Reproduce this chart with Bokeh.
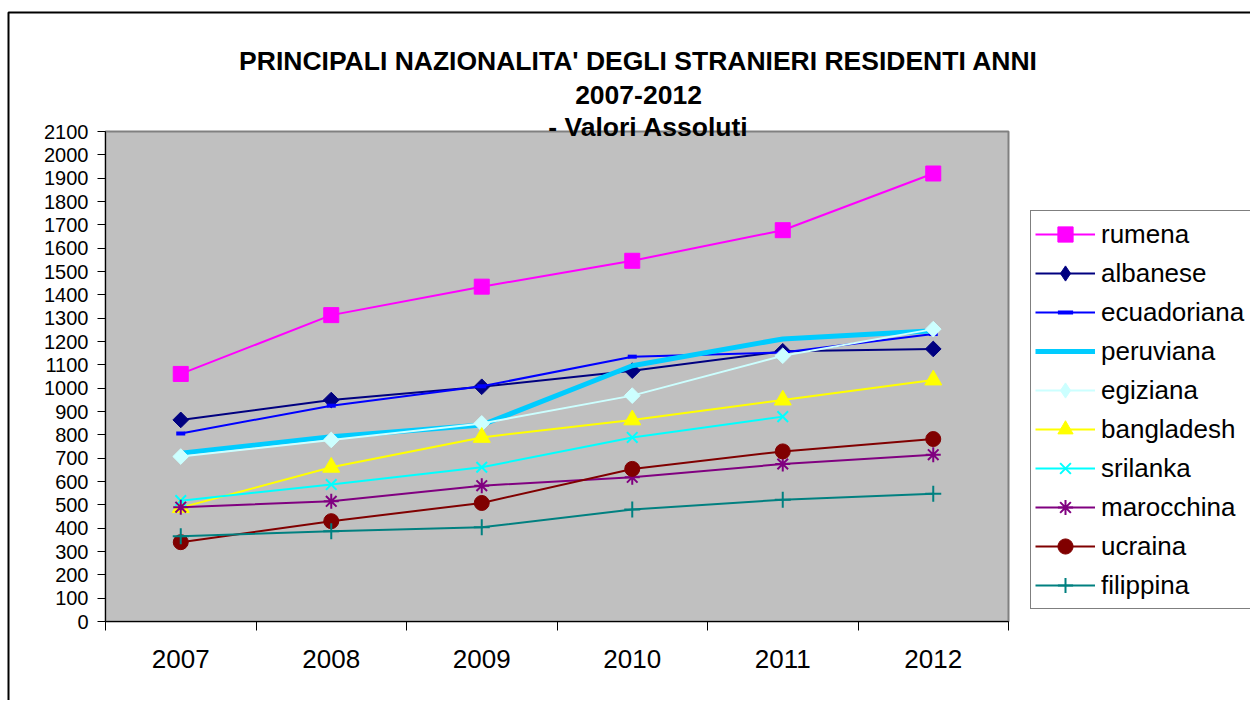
from bokeh.plotting import figure
from bokeh.models import (Range1d, FixedTicker, Legend, LegendItem, Label,
                          BoxAnnotation, ColumnDataSource, LinearAxis)
from bokeh.embed import file_html
from bokeh.resources import INLINE
import math

years = ["2007", "2008", "2009", "2010", "2011", "2012"]

rumena      = [1061, 1313, 1435, 1546, 1677, 1920]
albanese    = [864, 949, 1006, 1075, 1158, 1168]
ecuadoriana = [806, 925, 1008, 1135, 1153, 1232]
peruviana   = [721, 792, 842, 1096, 1211, 1246]
egiziana    = [707, 778, 849, 968, 1139, 1253]
bangladesh  = [488, 661, 789, 864, 949, 1035]
srilanka    = [518, 587, 661, 789, 878]
marocchina  = [490, 515, 582, 618, 675, 715]
ucraina     = [340, 430, 508, 654, 729, 782]
filippina   = [365, 387, 404, 480, 522, 547]

y_ticks = list(range(0, 2101, 100))
Y_MAX = 2100

title_lines = ["PRINCIPALI NAZIONALITA' DEGLI STRANIERI RESIDENTI ANNI",
               "2007-2012",
               "- Valori Assoluti"]

FONT = "Liberation Sans"

# canvas / plot-area geometry in pixels
W, H = 1250, 700
PL, PR, PT, PB = 105, 1008, 131, 621
n = len(years)
xs = n / (PR - PL)            # data units per pixel (x)
ys = Y_MAX / (PB - PT)         # data units per pixel (y)
x_range = Range1d(-PL * xs, (W - PL) * xs)
y_range = Range1d(-(H - PB) * ys, Y_MAX + PT * ys)

p = figure(width=W, height=H, output_backend="svg", toolbar_location=None,
           x_range=x_range, y_range=y_range,
           x_axis_location=None, y_axis_location=None,
           min_border=0, min_border_left=0, min_border_right=0,
           min_border_top=0, min_border_bottom=0)
p.background_fill_color = "white"
p.border_fill_color = "white"
p.outline_line_color = None
p.xgrid.visible = False
p.ygrid.visible = False

# grey plot area
p.add_layout(BoxAnnotation(left=0, right=n, bottom=0, top=Y_MAX,
                           fill_color="#C0C0C0", fill_alpha=1,
                           line_color="#808080", line_alpha=1, line_width=2,
                           level="underlay"))

xc = [i + 0.5 for i in range(n)]

# x axis: labels at category centres, ticks at category boundaries
xaxis = LinearAxis(fixed_location=0, bounds=(0, n))
xaxis.ticker = FixedTicker(ticks=xc, minor_ticks=list(range(n + 1)))
xaxis.major_label_overrides = {x: y for x, y in zip(xc, years)}
xaxis.major_tick_out = 0
xaxis.major_tick_in = 0
xaxis.minor_tick_out = 9
xaxis.minor_tick_in = 0
xaxis.minor_tick_line_color = "black"
xaxis.axis_line_color = "black"
xaxis.major_label_text_font = FONT
xaxis.major_label_text_font_size = "26px"
xaxis.major_label_text_color = "black"
xaxis.major_label_standoff = 19
p.add_layout(xaxis, "below")

yaxis = LinearAxis(fixed_location=0, bounds=(0, Y_MAX))
yaxis.ticker = FixedTicker(ticks=y_ticks)
yaxis.major_tick_out = 8
yaxis.major_tick_in = 0
yaxis.minor_tick_line_color = None
yaxis.axis_line_color = "black"
yaxis.major_tick_line_color = "black"
yaxis.major_label_text_font = FONT
yaxis.major_label_text_font_size = "20px"
yaxis.major_label_text_color = "black"
yaxis.major_label_standoff = 9
p.add_layout(yaxis, "left")

series = [
    ("rumena", rumena, "#FF00FF", 2, "square", 15),
    ("albanese", albanese, "#000080", 2, "diamond", 15),
    ("ecuadoriana", ecuadoriana, "#0000FF", 2, "dash", 9),
    ("peruviana", peruviana, "#00CCFF", 5, None, 0),
    ("egiziana", egiziana, "#CCFFFF", 2, "diamond", 15),
    ("bangladesh", bangladesh, "#FFFF00", 2, "triangle", 17),
    ("srilanka", srilanka, "#00FFFF", 2, "x", 15),
    ("marocchina", marocchina, "#800080", 2, "asterisk", 15),
    ("ucraina", ucraina, "#800000", 2, "circle", 15),
    ("filippina", filippina, "#008080", 2, "cross", 16),
]

items = []
for name, vals, color, lw, marker, size in series:
    src = ColumnDataSource(dict(x=xc[:len(vals)], y=vals))
    rs = [p.line("x", "y", source=src, line_color=color, line_width=lw)]
    if marker is None:
        pass
    elif marker in ("x", "asterisk", "cross"):
        rs.append(p.scatter("x", "y", source=src, marker=marker, size=size,
                            line_color=color, line_width=2, fill_color=None))
    elif marker == "dash":
        rs.append(p.scatter("x", "y", source=src, marker=marker, size=size,
                            line_color=color, line_width=4))
    elif marker == "diamond":
        # plot: square turned by 45 degrees; legend: diamond glyph (off-screen point)
        p.scatter("x", "y", source=src, marker="square", size=size / math.sqrt(2) + 0.5,
                  angle=math.pi / 4, fill_color=color, line_color=color, line_width=1)
        dummy = ColumnDataSource(dict(x=[float("nan")], y=[float("nan")]))
        rs.append(p.scatter("x", "y", source=dummy, marker="diamond", size=size,
                            fill_color=color, line_color=color, line_width=1))
    else:
        rs.append(p.scatter("x", "y", source=src, marker=marker, size=size,
                            fill_color=color, line_color=color, line_width=1))
    items.append(LegendItem(label=name, renderers=rs))

legend = Legend(items=items, location=(1030, H - 609), orientation="vertical",
                label_text_font=FONT, label_text_font_size="26px",
                label_text_color="black",
                glyph_width=60, glyph_height=38, label_height=38,
                spacing=1, padding=4, margin=0, label_standoff=6,
                label_width=160,
                border_line_color="black", border_line_width=1,
                background_fill_color="white", background_fill_alpha=1)
p.add_layout(legend, "center")

# title (three lines)
for txt, xx, yy in zip(title_lines, [638, 638, 648], [60, 94, 126.5]):
    p.add_layout(Label(x=xx, y=H - yy, x_units="screen", y_units="screen", text=txt,
                       text_font=FONT, text_font_size="26.5px",
                       text_font_style="bold", text_align="center",
                       text_baseline="middle", text_color="black"))

# outer chart border (runs beyond the picture on the right and bottom)
p.add_layout(BoxAnnotation(left=8, right=W + 50, top=H - 12, bottom=-50,
                           left_units="screen", right_units="screen",
                           top_units="screen", bottom_units="screen",
                           fill_alpha=0, line_color="black", line_alpha=1,
                           line_width=2, level="underlay"))

open("out.html", "w").write(file_html(p, INLINE))
